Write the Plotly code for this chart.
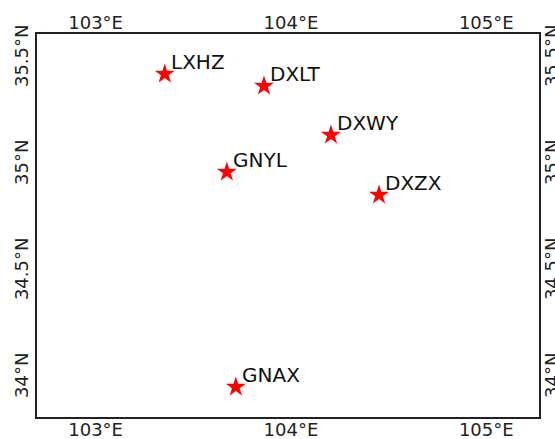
import plotly.graph_objects as go

stations = ["LXHZ", "DXLT", "DXWY", "GNYL", "DXZX", "GNAX"]
lons = [103.354, 103.862, 104.205, 103.672, 104.451, 103.718]
lats = [35.427, 35.371, 35.141, 34.967, 34.859, 33.958]

lon_ticks = [103, 104, 105]
lon_labels = ["103°E", "104°E", "105°E"]
lat_ticks = [34, 34.5, 35, 35.5]
lat_labels = ["34°N", "34.5°N", "35°N", "35.5°N"]

lon_range = [102.70, 105.27]
lat_range = [33.817, 35.615]

FONT = "DejaVu Sans"

fig = go.Figure()
fig.add_trace(go.Scatter(
    x=lons, y=lats, mode="markers",
    marker=dict(symbol="star", size=15, color="red", line=dict(width=0)),
    showlegend=False, cliponaxis=False,
))
# dummy trace for secondary axes
fig.add_trace(go.Scatter(x=[lons[0]], y=[lats[0]], xaxis="x2", yaxis="y2",
                         mode="markers", marker=dict(opacity=0), showlegend=False,
                         hoverinfo="skip"))

for name, lo, la in zip(stations, lons, lats):
    fig.add_annotation(x=lo, y=la, text=name, showarrow=False,
                       xanchor="left", yanchor="bottom", xshift=4, yshift=-2,
                       font=dict(family=FONT, size=20, color="#111"))

axfont = dict(family=FONT, size=18, color="#222")
fig.update_layout(
    width=555, height=439,
    margin=dict(l=37, r=16, t=34, b=22),
    paper_bgcolor="white", plot_bgcolor="white",
    xaxis=dict(range=lon_range, tickvals=lon_ticks, ticktext=lon_labels,
               showgrid=False, zeroline=False, showline=True, linecolor="#222",
               linewidth=1.5, mirror=True, ticks="", tickfont=axfont,
               automargin=False, ticklabelstandoff=-4),
    xaxis2=dict(range=lon_range, tickvals=lon_ticks, ticktext=lon_labels,
                overlaying="x", side="top", showgrid=False, zeroline=False,
                ticks="", tickfont=axfont, anchor="y", automargin=False),
    yaxis=dict(range=lat_range, tickvals=lat_ticks, ticktext=lat_labels,
               showgrid=False, zeroline=False, showline=True, linecolor="#222",
               linewidth=1.5, mirror=True, ticks="", tickfont=axfont, tickangle=-90,
               automargin=False),
    yaxis2=dict(range=lat_range, tickvals=lat_ticks, ticktext=lat_labels,
                overlaying="y", side="right", showgrid=False, zeroline=False,
                ticks="", tickfont=axfont, tickangle=-90, anchor="x",
                automargin=False),
)

fig.write_html("out.html")
